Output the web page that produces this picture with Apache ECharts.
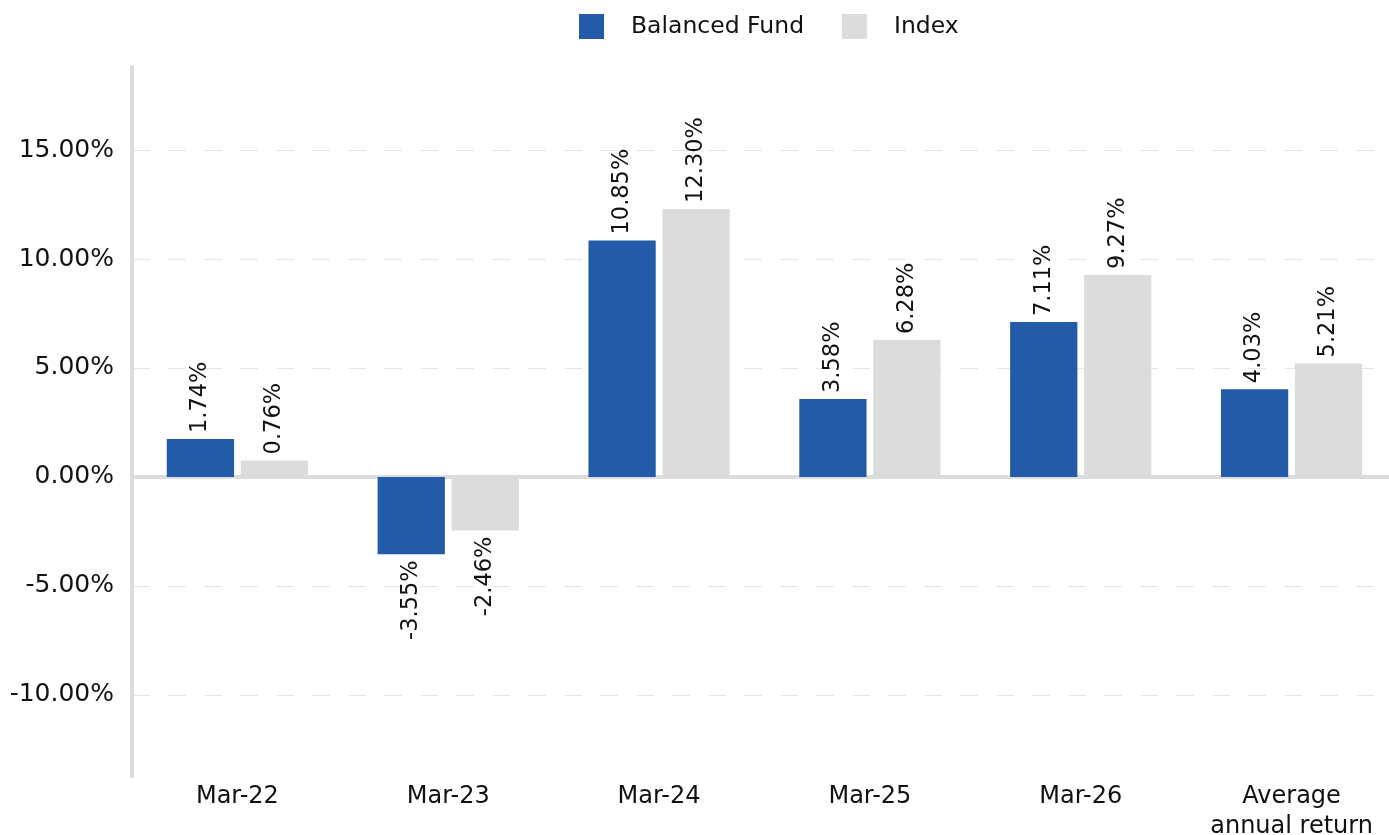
<!DOCTYPE html>
<html>
<head>
<meta charset="utf-8">
<script src="https://cdn.jsdelivr.net/npm/echarts@6/dist/echarts.min.js"></script>
<style>
  html, body { margin: 0; padding: 0; background: #fff; }
  #chart { width: 1389px; height: 835px; }
</style>
</head>
<body>
<div id="chart"></div>
<script>
  var categories = ['Mar-22', 'Mar-23', 'Mar-24', 'Mar-25', 'Mar-26', 'Average\nannual return'];
  var fundValues = [1.74, -3.55, 10.85, 3.58, 7.11, 4.03];
  var indexValues = [0.76, -2.46, 12.30, 6.28, 9.27, 5.21];
  var seriesNames = ['Balanced Fund', 'Index'];
  var colors = ['#235BA8', '#DCDCDC'];

  var font = '"DejaVu Sans", sans-serif';

  // positive values get the label above, negative below, both read upward
  function withLabels(values) {
    return values.map(function (v) {
      return {
        value: v,
        label: v >= 0
          ? { position: 'top', align: 'left', verticalAlign: 'middle' }
          : { position: 'bottom', align: 'right', verticalAlign: 'middle' }
      };
    });
  }

  var labelStyle = {
    show: true,
    rotate: 90,
    distance: 6,
    color: '#111',
    fontFamily: font,
    fontSize: 22.5,
    formatter: function (p) { return p.value.toFixed(2) + '%'; }
  };

  var option = {
    animation: false,
    color: colors,
    legend: {
      top: 14,
      left: 579,
      padding: 0,
      icon: 'rect',
      itemWidth: 25,
      itemHeight: 25,
      itemGap: 38,
      data: seriesNames,
      textStyle: { fontFamily: font, fontSize: 23.5, color: '#111', padding: [0, 0, 0, 22] }
    },
    grid: { left: 132, right: -8, top: 67, bottom: 59, containLabel: false, outerBoundsMode: 'none' },
    xAxis: [
      {
        type: 'category',
        data: categories,
        axisLine: { show: false, onZero: false },
        axisTick: { show: false },
        axisLabel: { interval: 0, hideOverlap: false, margin: 6, color: '#111', fontFamily: font, fontSize: 24, lineHeight: 30 }
      },
      {
        type: 'category',
        data: categories,
        axisLine: { show: true, onZero: true, lineStyle: { color: '#DCDCDC', width: 4 } },
        axisTick: { show: false },
        axisLabel: { show: false }
      }
    ],
    yAxis: {
      type: 'value',
      min: -13.72,
      max: 18.81,
      axisLine: { show: true, lineStyle: { color: '#DCDCDC', width: 4 } },
      axisTick: { show: false },
      axisLabel: {
        margin: 18,
        color: '#111',
        fontFamily: font,
        fontSize: 25,
        showMinLabel: false,
        showMaxLabel: false,
        formatter: function (v) { return v.toFixed(2) + '%'; }
      },
      splitLine: {
        show: true,
        showMinLine: false,
        showMaxLine: false,
        lineStyle: { color: '#E6E6E6', width: 1, type: [18, 18] }
      }
    },
    series: [
      {
        name: seriesNames[0],
        type: 'bar',
        xAxisIndex: 0,
        barCategoryGap: '33%',
        barGap: '10%',
        data: withLabels(fundValues),
        label: labelStyle
      },
      {
        name: seriesNames[1],
        type: 'bar',
        xAxisIndex: 0,
        barCategoryGap: '33%',
        barGap: '10%',
        data: withLabels(indexValues),
        label: labelStyle
      }
    ]
  };

  echarts.init(document.getElementById('chart')).setOption(option);
</script>
</body>
</html>
